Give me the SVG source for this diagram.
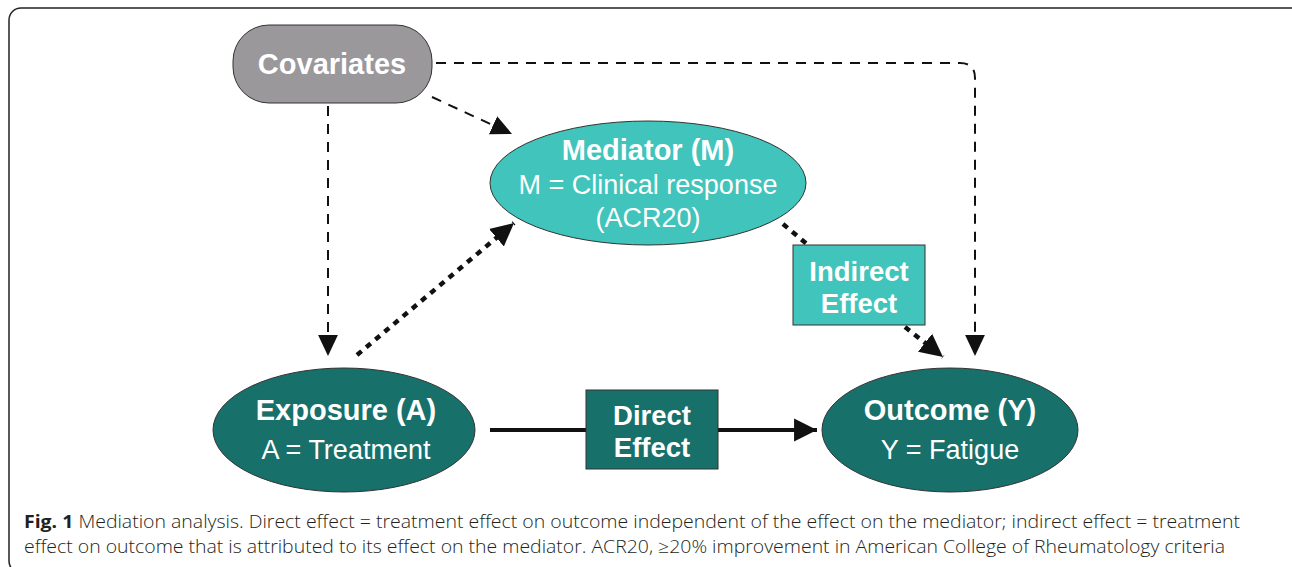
<svg xmlns="http://www.w3.org/2000/svg" width="1292" height="567" viewBox="0 0 1292 567">
<style>
.bt{font-family:"Liberation Sans",Arial,sans-serif;font-weight:bold;fill:#fff;text-anchor:middle;font-size:29px}
.bx{font-family:"Liberation Sans",Arial,sans-serif;font-weight:bold;fill:#fff;text-anchor:middle;font-size:27.5px}
.rt{font-family:"Liberation Sans",Arial,sans-serif;fill:#fff;text-anchor:middle;font-size:27px}
.dash{fill:none;stroke:#111;stroke-width:2;stroke-dasharray:10 8}
.dot{fill:none;stroke:#111;stroke-width:4.5;stroke-dasharray:6 6}
.cap{font-family:"Open Sans","DejaVu Sans",sans-serif;font-size:17.5px;fill:#231f20;font-weight:300}
</style>
<defs>
<marker id="ah" markerUnits="userSpaceOnUse" markerWidth="22" markerHeight="22" refX="19" refY="9" orient="auto" viewBox="0 0 20 18">
<path d="M0,0 L19,9 L0,18 Z" fill="#111"/>
</marker>
<marker id="ahb" markerUnits="userSpaceOnUse" markerWidth="24" markerHeight="24" refX="21" refY="10.5" orient="auto" viewBox="0 0 22 21">
<path d="M0,0 L21,10.5 L0,21 Z" fill="#111"/>
</marker>
</defs>
<rect x="9" y="8" width="1295" height="565" rx="12" fill="#fff" stroke="#222" stroke-width="1.5"/>
<g id="connectors">
<path class="dash" d="M328,106 V356" marker-end="url(#ah)"/>
<path class="dash" d="M436,63 H960 Q975,63 975,78 V356" marker-end="url(#ah)"/>
<path class="dash" d="M432,97 L512,134" marker-end="url(#ah)"/>
<path class="dot" d="M357,355 L514,223" marker-end="url(#ahb)"/>
<path class="dot" d="M783,224 L808,245"/>
<path class="dot" d="M905,327 L943,357" marker-end="url(#ahb)"/>
<path d="M490,430 H817" fill="none" stroke="#111" stroke-width="4" marker-end="url(#ahb)"/>
</g>
<g id="covariates">
<rect x="233" y="25" width="199" height="78" rx="36" fill="#9a989b" stroke="#333" stroke-width="1"/>
<text class="bt" x="332" y="74">Covariates</text>
</g>
<g id="mediator">
<ellipse cx="648" cy="183" rx="158" ry="62" fill="#40c4bb" stroke="#333" stroke-width="1"/>
<text class="bt" x="648" y="160">Mediator (M)</text>
<text class="rt" x="648" y="194">M = Clinical response</text>
<text class="rt" x="648" y="227">(ACR20)</text>
</g>
<g id="exposure">
<ellipse cx="344" cy="430" rx="131" ry="62" fill="#17706a" stroke="#333" stroke-width="1"/>
<text class="bt" x="346" y="420">Exposure (A)</text>
<text class="rt" x="346" y="459">A = Treatment</text>
</g>
<g id="outcome">
<ellipse cx="950" cy="430" rx="128" ry="62" fill="#17706a" stroke="#333" stroke-width="1"/>
<text class="bt" x="950" y="420">Outcome (Y)</text>
<text class="rt" x="950" y="459">Y = Fatigue</text>
</g>
<g id="direct">
<rect x="586" y="390" width="132" height="79" fill="#17706a" stroke="#333" stroke-width="1"/>
<text class="bx" x="652" y="425">Direct</text>
<text class="bx" x="652" y="457">Effect</text>
</g>
<g id="indirect">
<rect x="793" y="245" width="132" height="80" fill="#40c4bb" stroke="#333" stroke-width="1"/>
<text class="bx" x="859" y="281">Indirect</text>
<text class="bx" x="859" y="313">Effect</text>
</g>
<g id="caption">
<text class="cap" x="24" y="528" textLength="1216" lengthAdjust="spacingAndGlyphs"><tspan font-weight="bold">Fig. 1</tspan> Mediation analysis. Direct effect = treatment effect on outcome independent of the effect on the mediator; indirect effect = treatment</text>
<text class="cap" x="24" y="553" textLength="1201" lengthAdjust="spacingAndGlyphs">effect on outcome that is attributed to its effect on the mediator. ACR20, ≥20% improvement in American College of Rheumatology criteria</text>
</g>
</svg>
